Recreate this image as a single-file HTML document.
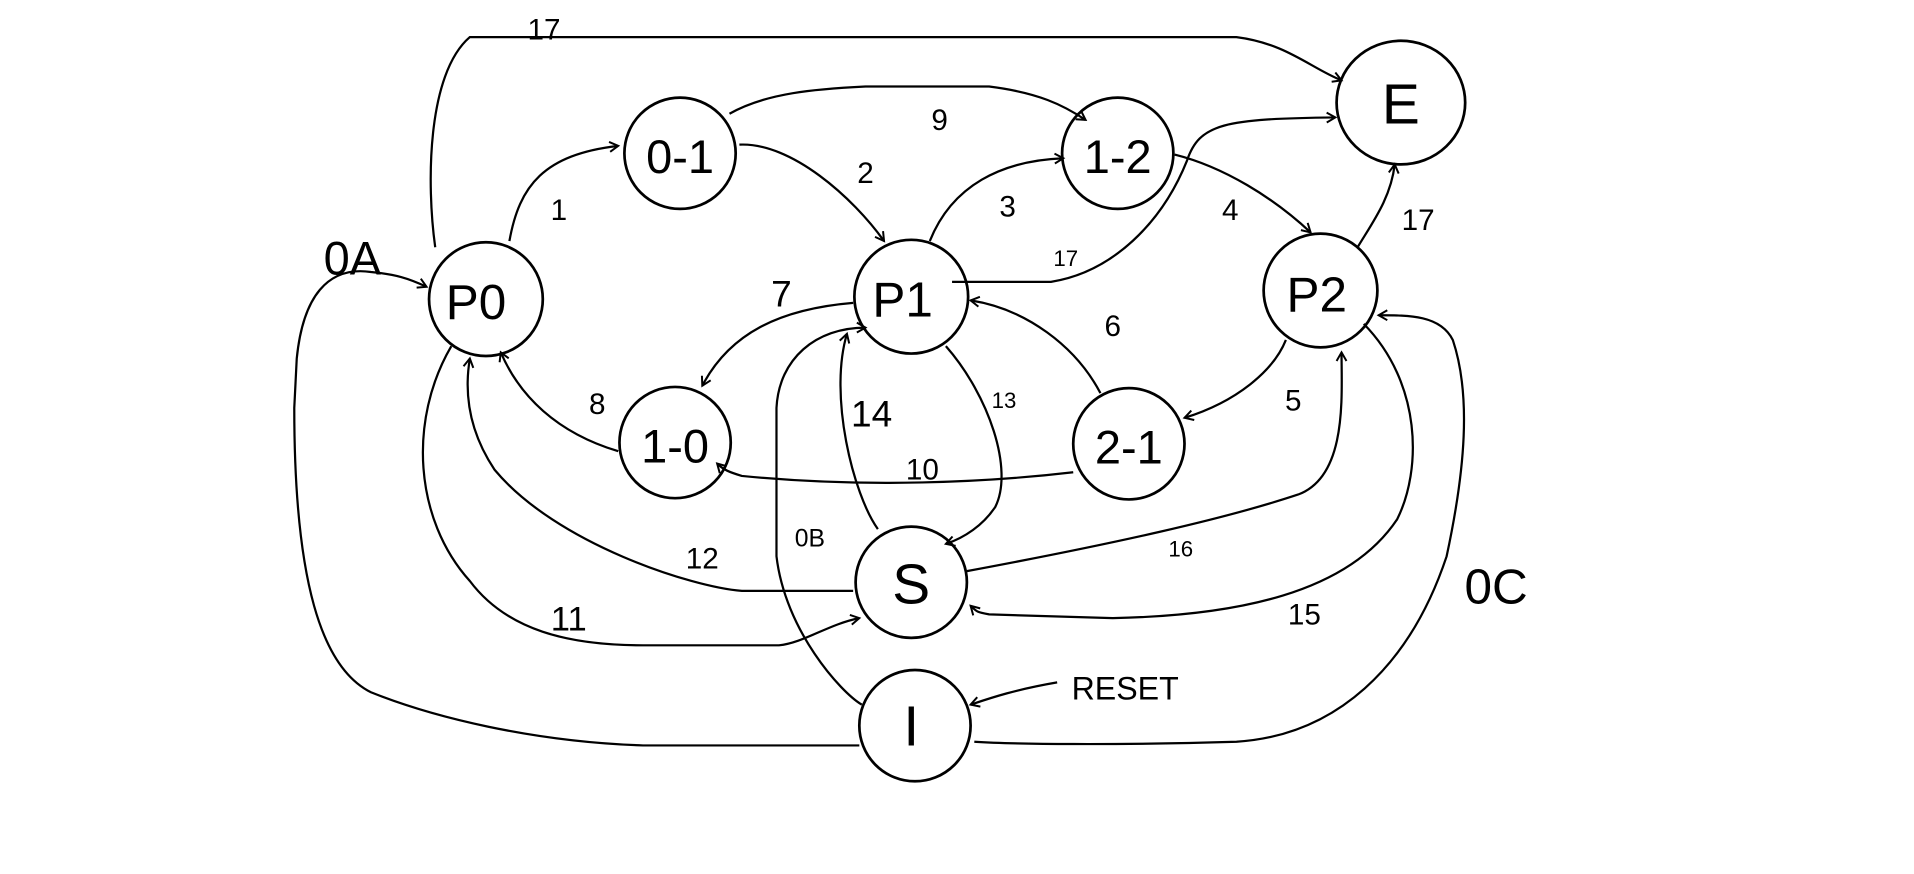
<!DOCTYPE html>
<html><head><meta charset="utf-8"><style>
html,body{margin:0;padding:0;background:#fff;}
svg{display:block;}
text{font-family:"Liberation Sans",sans-serif;fill:#000;}
</style></head><body>
<svg width="1914" height="874" viewBox="0 0 1548 707" preserveAspectRatio="none" xmlns="http://www.w3.org/2000/svg">
<defs>
<marker id="a" markerWidth="10" markerHeight="10" refX="8" refY="5" orient="auto" markerUnits="userSpaceOnUse">
<path d="M1,1 L8,5 L1,9" fill="none" stroke="#000" stroke-width="1.6"/>
</marker>
</defs>
<g fill="none" stroke="#000" stroke-width="2.2">
<ellipse cx="1133" cy="83" rx="52" ry="50"/>
<ellipse cx="550" cy="124" rx="45" ry="45"/>
<ellipse cx="904" cy="124" rx="45" ry="45"/>
<ellipse cx="393" cy="242" rx="46" ry="46"/>
<ellipse cx="737" cy="240" rx="46" ry="46"/>
<ellipse cx="1068" cy="235" rx="46" ry="46"/>
<ellipse cx="546" cy="358" rx="45" ry="45"/>
<ellipse cx="913" cy="359" rx="45" ry="45"/>
<ellipse cx="737" cy="471" rx="45" ry="45"/>
<ellipse cx="740" cy="587" rx="45" ry="45"/>
</g>
<g fill="none" stroke="#000" stroke-width="1.8" marker-end="url(#a)">
<path d="M352,200 C345,150 345,60 380,30 L1000,30 C1040,35 1060,55 1085,65"/>
<path d="M412,195 C420,150 440,125 500,118"/>
<path d="M590,92 C620,75 660,72 700,70 L800,70 C840,75 860,85 878,97"/>
<path d="M598,117 C640,115 690,160 715,195"/>
<path d="M752,195 C770,150 810,130 860,128"/>
<path d="M950,125 C990,135 1030,160 1060,188"/>
<path d="M770,228 L850,228 C900,220 940,180 960,130 C970,100 990,96 1080,95"/>
<path d="M1098,200 C1110,180 1125,160 1128,133"/>
<path d="M890,318 C870,280 830,250 785,243"/>
<path d="M1040,275 C1030,300 1000,325 958,338"/>
<path d="M690,245 C630,250 590,270 568,312"/>
<path d="M500,365 C450,350 420,320 405,285"/>
<path d="M868,382 C800,390 700,395 600,385 C590,382 585,380 580,375"/>
<path d="M765,280 C800,320 820,380 805,410 C795,425 780,435 765,440"/>
<path d="M710,428 C690,400 670,320 685,270"/>
<path d="M697,570 C680,560 635,510 628,450 L628,330 C630,290 660,265 700,265"/>
<path d="M690,478 L600,478 C560,475 450,440 400,380 C380,350 375,320 380,290"/>
<path d="M365,280 C330,340 335,420 380,470 C410,510 460,522 520,522 L630,522 C650,520 670,505 695,500"/>
<path d="M782,462 C900,440 990,420 1050,400 C1090,385 1085,320 1085,285"/>
<path d="M1103,262 C1150,310 1150,380 1130,420 C1090,480 1000,498 900,500 L800,497 C790,495 790,495 785,490"/>
<path d="M788,600 C820,602 900,603 1000,600 C1080,595 1140,540 1170,450 C1185,380 1190,320 1175,275 C1165,255 1140,255 1115,255"/>
<path d="M695,603 L520,603 C430,600 350,580 300,560 C260,540 238,470 238,330 L240,290 C245,240 265,215 300,220 C320,222 330,225 345,232"/>
<path d="M855,552 C820,558 800,565 785,570"/>
</g>
<g font-size="46" text-anchor="middle">
<text x="1133" y="100">E</text>
<text x="550" y="140" font-size="38">0-1</text>
<text x="904" y="140" font-size="38">1-2</text>
<text x="385" y="258" font-size="40">P0</text>
<text x="730" y="256" font-size="40">P1</text>
<text x="1065" y="252" font-size="40">P2</text>
<text x="546" y="374" font-size="38">1-0</text>
<text x="913" y="375" font-size="38">2-1</text>
<text x="737" y="488">S</text>
<text x="737" y="603">I</text>
</g>
<g font-size="24" text-anchor="middle">
<text x="440" y="32">17</text>
<text x="452" y="178">1</text>
<text x="760" y="105">9</text>
<text x="700" y="148">2</text>
<text x="815" y="175">3</text>
<text x="995" y="178">4</text>
<text x="862" y="215" font-size="18">17</text>
<text x="1147" y="186">17</text>
<text x="900" y="272">6</text>
<text x="1046" y="332">5</text>
<text x="632" y="248" font-size="30">7</text>
<text x="483" y="335">8</text>
<text x="746" y="388">10</text>
<text x="812" y="330" font-size="18">13</text>
<text x="705" y="345" font-size="30">14</text>
<text x="655" y="442" font-size="20">0B</text>
<text x="568" y="460">12</text>
<text x="460" y="510" font-size="28">11</text>
<text x="955" y="450" font-size="18">16</text>
<text x="1055" y="505">15</text>
<text x="285" y="222" font-size="38">0A</text>
<text x="1210" y="488" font-size="40">0C</text>
<text x="910" y="566" font-size="26">RESET</text>
</g>
</svg>
</body></html>
